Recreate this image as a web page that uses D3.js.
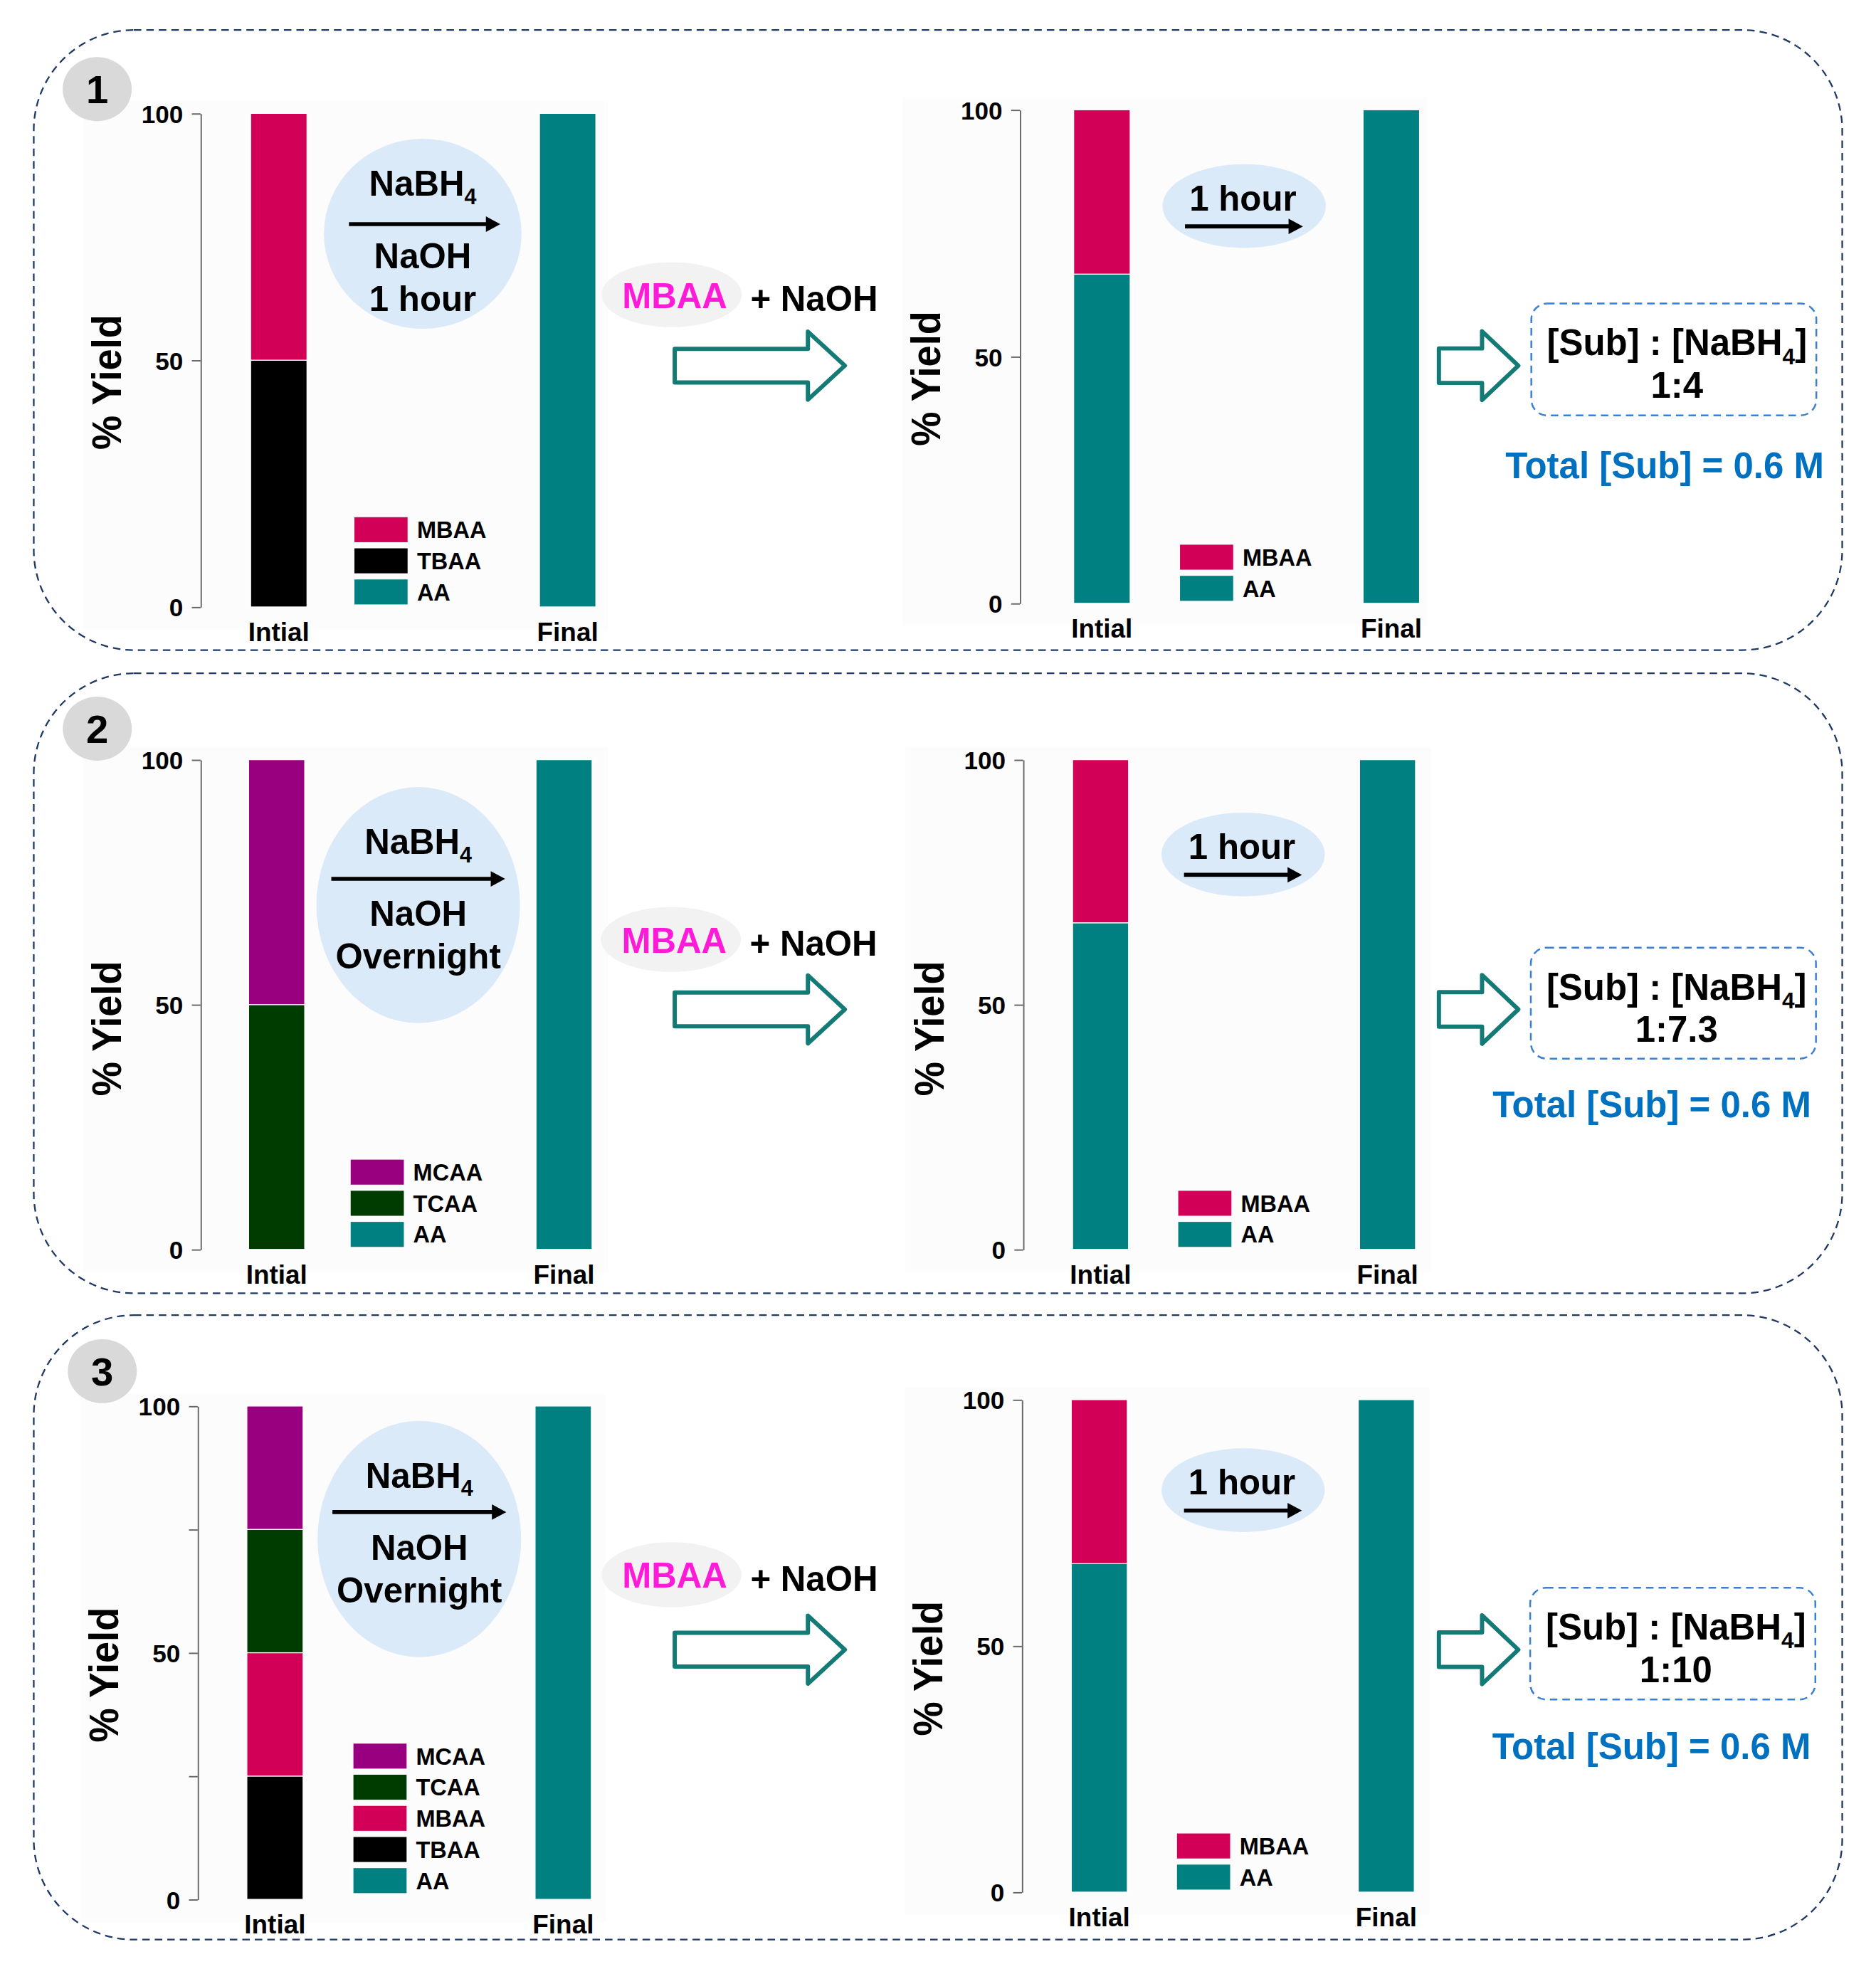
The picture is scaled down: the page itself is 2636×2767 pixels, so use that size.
<!DOCTYPE html>
<html>
<head>
<meta charset="utf-8">
<script src="https://cdn.jsdelivr.net/npm/d3@7"></script>
<style>
  html, body { margin: 0; padding: 0; background: #ffffff; }
  text { font-family: 'Liberation Sans', Arial, Helvetica, sans-serif; font-weight: bold; }
</style>
</head>
<body>
<div id="chart"></div>
<script>
// ---- data ----
var categories = ["Intial", "Final"];
// stack order, bottom to top
var stackKeys = ["AA", "TBAA", "MBAA", "TCAA", "MCAA"];
var stackColors = ["#008080", "#000000", "#d20057", "#003c00", "#99007f"];

// % yield after the first treatment (NaBH4 / NaOH)
var run1Before = [{cat: "Intial", TBAA: 50, MBAA: 50}, {cat: "Final", AA: 100}];
var run2Before = [{cat: "Intial", TCAA: 50, MCAA: 50}, {cat: "Final", AA: 100}];
var run3Before = [{cat: "Intial", TBAA: 25, MBAA: 25, TCAA: 25, MCAA: 25}, {cat: "Final", AA: 100}];
// % yield after adding MBAA + NaOH
var run1After = [{cat: "Intial", AA: 66.7, MBAA: 33.3}, {cat: "Final", AA: 100}];
var run2After = [{cat: "Intial", AA: 66.7, MBAA: 33.3}, {cat: "Final", AA: 100}];
var run3After = [{cat: "Intial", AA: 66.7, MBAA: 33.3}, {cat: "Final", AA: 100}];

var legendBefore = [["MBAA", "TBAA", "AA"], ["MCAA", "TCAA", "AA"], ["MCAA", "TCAA", "MBAA", "TBAA", "AA"]];
var legendAfter = ["MBAA", "AA"];
var badges = ["1", "2", "3"];
var firstTimes = ["1 hour", "Overnight", "Overnight"];
var ratios = ["1:4", "1:7.3", "1:10"];
var yTicks = [0, 50, 100];
var yTicksMinor = [0, 25, 50, 75, 100];

var color = d3.scaleOrdinal().domain(stackKeys).range(stackColors);

// ---- layout (positions only, in 1500x1575 view units) ----
var layout = [
  { box: [27, 24, 1473, 520], badge: [77.7, 71.3],
    left: {ax: 160.4, yTop: 90.7, yBot: 485.5, xr: [40, 316], legX: 123, legGap: 2},
    right: {ax: 815.5, yTop: 87.8, yBot: 482.6, xr: [43, 319.5], legX: 128, legGap: 2},
    react: {cx: 338, cy: 187, rx: 79, ry: 76, l0: -30.5, arrow: -7.7, aw: [-59, 62], l1: 27.5, l2: 62},
    hour: [994.8, 164.8], mbaa: [537, 235.7], arrowY: 292.5,
    ratioBox: [1224.4, 242.8, 1452.3, 332.3], total: [1331, 382.4] },
  { box: [27, 538.6, 1473, 1034.5], badge: [77.8, 582.9],
    left: {ax: 160.4, yTop: 607.7, yBot: 999.4, xr: [38.4, 313], legX: 120, legGap: 2},
    right: {ax: 818.1, yTop: 607.7, yBot: 999.4, xr: [39.5, 313.7], legX: 124, legGap: 2},
    react: {cx: 334.4, cy: 724, rx: 81.4, ry: 94.4, l0: -40.8, arrow: -21, aw: [-69.5, 69.5], l1: 16.6, l2: 50.7},
    hour: [994, 683.5], mbaa: [536.5, 751.5], arrowY: 807.4,
    ratioBox: [1224, 758, 1452, 846.8], total: [1320.8, 893.5] },
  { box: [27, 1052, 1473, 1551.5], badge: [81.8, 1096.8],
    left: {ax: 158.1, yTop: 1124.7, yBot: 1519.3, xr: [39.3, 314.7], legX: 124.5, legGap: 5, minor: true},
    right: {ax: 817.1, yTop: 1119.6, yBot: 1513.5, xr: [39.5, 313.7], legX: 124, legGap: 2},
    react: {cx: 335.3, cy: 1231, rx: 81.4, ry: 94.5, l0: -41, arrow: -21.5, aw: [-69.5, 69.5], l1: 16.6, l2: 50.7},
    hour: [994, 1192], mbaa: [537, 1259.6], arrowY: 1319.6,
    ratioBox: [1223.5, 1270, 1451.5, 1359.4], total: [1320.5, 1407] }
];

var svg = d3.select("#chart").append("svg")
    .attr("width", 2636)
    .attr("height", 2767)
    .attr("viewBox", "0 0 1500 1575")
    .attr("preserveAspectRatio", "none");

svg.append("rect").attr("width", 1500).attr("height", 1575).attr("fill", "#ffffff");

/**
 * Writes text with an optional subscript part, e.g. NaBH4.
 */
function chemText(g, x, y, size, parts, fill) {
    var t = g.append("text")
        .attr("x", x)
        .attr("y", y)
        .attr("text-anchor", "middle")
        .attr("font-size", size)
        .attr("fill", fill || "#000");
    var shift = 0;
    parts.forEach(function(p) {
        var sub = p[1] === 1;
        var dy = sub ? size * 0.24 - shift : -shift;
        shift = sub ? size * 0.24 : 0;
        t.append("tspan")
            .attr("dy", dy)
            .attr("font-size", sub ? size * 0.62 : size)
            .text(p[0]);
    });
    return t;
}

/**
 * Draws a solid black reaction arrow.
 */
function solidArrow(g, x1, x2, y) {
    g.append("line")
        .attr("x1", x1).attr("y1", y)
        .attr("x2", x2 - 10).attr("y2", y)
        .attr("stroke", "#000")
        .attr("stroke-width", 3.2);
    g.append("path")
        .attr("d", "M " + x2 + " " + y + " l -11.5 -6.2 l 0 12.4 z")
        .attr("fill", "#000");
}

/**
 * Draws a hollow block arrow outline.
 */
function hollowArrow(g, x0, hx, x1, cy, bh, hh) {
    g.append("path")
        .attr("d", "M " + x0 + " " + (cy - bh) + " L " + hx + " " + (cy - bh) +
                   " L " + hx + " " + (cy - hh) + " L " + x1 + " " + cy +
                   " L " + hx + " " + (cy + hh) + " L " + hx + " " + (cy + bh) +
                   " L " + x0 + " " + (cy + bh) + " Z")
        .attr("fill", "none")
        .attr("stroke", "#137a76")
        .attr("stroke-width", 3.4)
        .attr("stroke-linejoin", "round");
}

/**
 * Draws one stacked bar chart with axis, labels and legend.
 */
function drawBars(g, rows, legendKeys, L) {
    var y = d3.scaleLinear().domain([0, 100]).range([L.yBot, L.yTop]);
    var x = d3.scaleBand().domain(categories)
        .range([L.ax + L.xr[0], L.ax + L.xr[1]])
        .paddingInner(0.805).paddingOuter(0);

    // faint plot background
    g.append("rect")
        .attr("x", L.ax - 94).attr("y", L.yTop - 10)
        .attr("width", 420).attr("height", L.yBot - L.yTop + 28)
        .attr("fill", "#fcfcfc");

    var series = d3.stack().keys(stackKeys)
        .value(function(d, k) { return d[k] || 0; })(rows);

    g.append("g").selectAll("g")
        .data(series)
        .join("g")
        .attr("fill", function(d) { return color(d.key); })
        .selectAll("rect")
        .data(function(d) { return d.filter(function(s) { return s[1] > s[0]; }); })
        .join("rect")
        .attr("x", function(d) { return x(d.data.cat); })
        .attr("y", function(d) { return y(d[1]); })
        .attr("width", x.bandwidth())
        .attr("height", function(d) { return y(d[0]) - y(d[1]); })
        .attr("stroke", "#ffffff")
        .attr("stroke-width", 0.7);

    var axis = d3.axisLeft(y)
        .tickValues(L.minor ? yTicksMinor : yTicks)
        .tickFormat(function(d) { return yTicks.indexOf(d) >= 0 ? d : ""; })
        .tickSize(7).tickSizeOuter(0).tickPadding(7);
    var ag = g.append("g").attr("transform", "translate(" + L.ax + ",0)").call(axis);
    ag.select(".domain").attr("stroke", "#666").attr("stroke-width", 1.1);
    ag.selectAll(".tick line").attr("stroke", "#666").attr("stroke-width", 1.1);
    ag.selectAll(".tick text")
        .attr("font-size", 20)
        .attr("font-family", "'Liberation Sans', Arial, sans-serif")
        .attr("font-weight", "bold")
        .attr("fill", "#000")
        .attr("dy", "0.36em");

    g.selectAll(null)
        .data(categories)
        .join("text")
        .attr("x", function(d) { return x(d) + x.bandwidth() / 2; })
        .attr("y", L.yBot + 27.5)
        .attr("text-anchor", "middle")
        .attr("font-size", 21)
        .text(function(d) { return d; });

    g.append("text")
        .attr("transform", "translate(" + (L.ax - 75.5) + "," + (L.yTop + 215) + ") rotate(-90)")
        .attr("dy", "0.36em")
        .attr("text-anchor", "middle")
        .attr("font-size", 33)
        .attr("textLength", 108)
        .attr("lengthAdjust", "spacingAndGlyphs")
        .text("% Yield");

    // legend, anchored to the bottom of the axis
    var n = legendKeys.length;
    var lg = g.append("g").selectAll("g")
        .data(legendKeys)
        .join("g")
        .attr("transform", function(d, i) {
            return "translate(" + (L.ax + L.legX) + "," + (L.yBot - 20 - L.legGap - (n - 1 - i) * 24.9) + ")";
        });
    lg.append("rect")
        .attr("width", 42.5).attr("height", 20)
        .attr("fill", function(d) { return color(d); });
    lg.append("text")
        .attr("x", 50).attr("y", 16.7)
        .attr("font-size", 18.5)
        .text(function(d) { return d; });
}

/**
 * Draws one full panel: outline, badge, both charts and annotations.
 */
function drawPanel(i) {
    var P = layout[i];
    var g = svg.append("g").attr("class", "panel");

    g.append("rect")
        .attr("x", P.box[0]).attr("y", P.box[1])
        .attr("width", P.box[2] - P.box[0]).attr("height", P.box[3] - P.box[1])
        .attr("rx", 80).attr("ry", 80)
        .attr("fill", "none")
        .attr("stroke", "#203864")
        .attr("stroke-width", 1.3)
        .attr("stroke-dasharray", "6,4");

    drawBars(g, [run1Before, run2Before, run3Before][i], legendBefore[i], P.left);
    drawBars(g, [run1After, run2After, run3After][i], legendAfter, P.right);

    // number badge
    g.append("ellipse")
        .attr("cx", P.badge[0]).attr("cy", P.badge[1])
        .attr("rx", 27.6).attr("ry", 25.6)
        .attr("fill", "#d9d9d9");
    g.append("text")
        .attr("x", P.badge[0]).attr("y", P.badge[1] + 11.5)
        .attr("text-anchor", "middle")
        .attr("font-size", 32)
        .text(badges[i]);

    // first reaction conditions
    var R = P.react;
    g.append("ellipse")
        .attr("cx", R.cx).attr("cy", R.cy).attr("rx", R.rx).attr("ry", R.ry)
        .attr("fill", "#dbeaf8");
    chemText(g, R.cx, R.cy + R.l0, 28, [["NaBH", 0], ["4", 1]]);
    solidArrow(g, R.cx + R.aw[0], R.cx + R.aw[1], R.cy + R.arrow);
    chemText(g, R.cx, R.cy + R.l1, 28, [["NaOH", 0]]);
    chemText(g, R.cx, R.cy + R.l2, 28, [[firstTimes[i], 0]]);

    // MBAA + NaOH
    g.append("ellipse")
        .attr("cx", P.mbaa[0]).attr("cy", P.mbaa[1]).attr("rx", 56).attr("ry", 26)
        .attr("fill", "#f2f2f2");
    chemText(g, P.mbaa[0] + 2.5, P.mbaa[1] + 10.5, 28, [["MBAA", 0]], "#ff1ad9");
    g.append("text")
        .attr("x", P.mbaa[0] + 63).attr("y", P.mbaa[1] + 13)
        .attr("font-size", 28)
        .text("+ NaOH");

    hollowArrow(g, 539.5, 646, 675.5, P.arrowY, 13.5, 27.2);

    // second step: 1 hour
    g.append("ellipse")
        .attr("cx", P.hour[0]).attr("cy", P.hour[1]).attr("rx", 65.3).attr("ry", 33.5)
        .attr("fill", "#dbeaf8");
    chemText(g, P.hour[0] - 1, P.hour[1] + 3.6, 28, [["1 hour", 0]]);
    solidArrow(g, P.hour[0] - 47.3, P.hour[0] + 47, P.hour[1] + 16.3);

    hollowArrow(g, 1150.5, 1185, 1214, P.arrowY, 13.8, 27.5);

    // ratio box
    var B = P.ratioBox;
    g.append("rect")
        .attr("x", B[0]).attr("y", B[1])
        .attr("width", B[2] - B[0]).attr("height", B[3] - B[1])
        .attr("rx", 12.6).attr("ry", 12.6)
        .attr("fill", "none")
        .attr("stroke", "#3a7fd5")
        .attr("stroke-width", 1.4)
        .attr("stroke-dasharray", "6,4");
    var bc = (B[0] + B[2]) / 2 + 2.5;
    chemText(g, bc, B[1] + 41.5, 29, [["[Sub] : [NaBH", 0], ["4", 1], ["]", 0]]);
    chemText(g, bc, B[1] + 75.5, 29, [[ratios[i], 0]]);

    chemText(g, P.total[0], P.total[1], 29, [["Total [Sub] = 0.6 M", 0]], "#0070c0");
}

for (var i = 0; i < layout.length; i++) {
    drawPanel(i);
}
</script>
</body>
</html>
